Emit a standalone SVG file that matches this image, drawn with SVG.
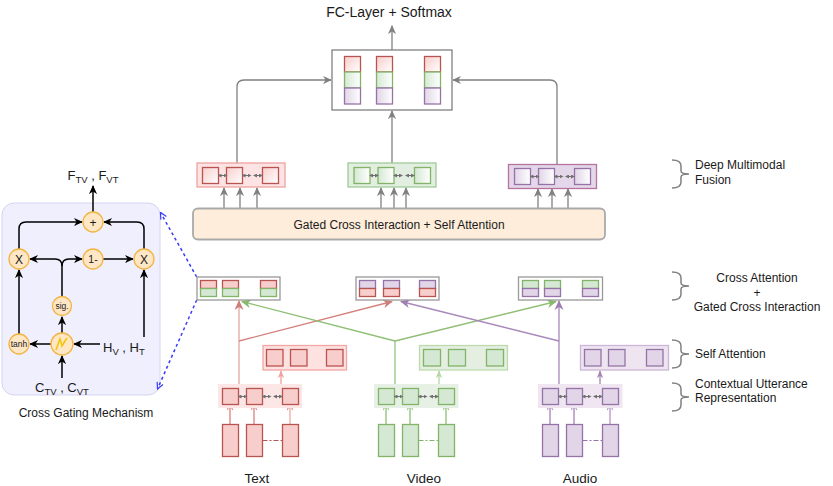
<svg xmlns="http://www.w3.org/2000/svg" width="833" height="486" viewBox="0 0 833 486">
<style>
text{font-family:"Liberation Sans",Arial,sans-serif;fill:#1a1a1a}
.lbl{font-size:12px}
.big{font-size:13.5px}
.cR{fill:#f8cecc;stroke:#b85450;stroke-width:1.3}
.cG{fill:#d5e8d4;stroke:#82b366;stroke-width:1.3}
.cP{fill:#e1d5e7;stroke:#9673a6;stroke-width:1.3}
.gR{fill:url(#gradR);stroke:#b85450;stroke-width:1.3}
.gG{fill:url(#gradG);stroke:#82b366;stroke-width:1.3}
.gP{fill:url(#gradP);stroke:#9673a6;stroke-width:1.3}
.gray{fill:none;stroke:#808080;stroke-width:1.3;marker-end:url(#aGray)}
.blk{fill:none;stroke:#000;stroke-width:1.5;marker-end:url(#aBlk)}
.circ{fill:#ffe6c4;stroke:#f2b443;stroke-width:1.3}
.cn{stroke:#707070;stroke-width:1;marker-start:url(#tiny);marker-end:url(#tiny)}
.brace{fill:none;stroke:#808080;stroke-width:1.5}
.blue{fill:none;stroke:#3a3aff;stroke-width:1.5;stroke-dasharray:3 3;marker-end:url(#aBlue)}
</style>
<defs>
<linearGradient id="gradR" x1="0" y1="0" x2="1" y2="1"><stop offset="0" stop-color="#f8cecc"/><stop offset="1" stop-color="#ffffff"/></linearGradient>
<linearGradient id="gradG" x1="0" y1="0" x2="1" y2="0"><stop offset="0" stop-color="#d5e8d4"/><stop offset="1" stop-color="#ffffff"/></linearGradient>
<linearGradient id="gradP" x1="0" y1="0" x2="1" y2="0"><stop offset="0" stop-color="#e1d5e7"/><stop offset="1" stop-color="#ffffff"/></linearGradient>
<marker id="aGray" viewBox="0 0 10 10" refX="9" refY="5" markerWidth="9" markerHeight="9" markerUnits="userSpaceOnUse" orient="auto"><path d="M0,0.5 L10,5 L0,9.5 L3,5 z" fill="#808080"/></marker>
<marker id="aBlk" viewBox="0 0 10 10" refX="9" refY="5" markerWidth="9" markerHeight="9" markerUnits="userSpaceOnUse" orient="auto"><path d="M0,0.5 L10,5 L0,9.5 L3,5 z" fill="#000"/></marker>
<marker id="aRed" viewBox="0 0 10 10" refX="9" refY="5" markerWidth="10" markerHeight="10" markerUnits="userSpaceOnUse" orient="auto"><path d="M0,0.5 L10,5 L0,9.5 L3,5 z" fill="#d07d79"/></marker>
<marker id="aGrn" viewBox="0 0 10 10" refX="9" refY="5" markerWidth="10" markerHeight="10" markerUnits="userSpaceOnUse" orient="auto"><path d="M0,0.5 L10,5 L0,9.5 L3,5 z" fill="#86b96a"/></marker>
<marker id="aPur" viewBox="0 0 10 10" refX="9" refY="5" markerWidth="10" markerHeight="10" markerUnits="userSpaceOnUse" orient="auto"><path d="M0,0.5 L10,5 L0,9.5 L3,5 z" fill="#a07db3"/></marker>
<marker id="oRed" viewBox="0 0 10 10" refX="9" refY="5" markerWidth="7" markerHeight="7" markerUnits="userSpaceOnUse" orient="auto"><path d="M1,1 L9,5 L1,9" fill="none" stroke="#e08a86" stroke-width="1.5"/></marker>
<marker id="oGrn" viewBox="0 0 10 10" refX="9" refY="5" markerWidth="7" markerHeight="7" markerUnits="userSpaceOnUse" orient="auto"><path d="M1,1 L9,5 L1,9" fill="none" stroke="#9cc783" stroke-width="1.5"/></marker>
<marker id="oPur" viewBox="0 0 10 10" refX="9" refY="5" markerWidth="7" markerHeight="7" markerUnits="userSpaceOnUse" orient="auto"><path d="M1,1 L9,5 L1,9" fill="none" stroke="#b397c3" stroke-width="1.5"/></marker>
<marker id="fRed" viewBox="0 0 10 10" refX="9" refY="5" markerWidth="8" markerHeight="8" markerUnits="userSpaceOnUse" orient="auto"><path d="M0,1 L10,5 L0,9 L3,5 z" fill="#f0a09d"/></marker>
<marker id="fGrn" viewBox="0 0 10 10" refX="9" refY="5" markerWidth="8" markerHeight="8" markerUnits="userSpaceOnUse" orient="auto"><path d="M0,1 L10,5 L0,9 L3,5 z" fill="#b5d6a6"/></marker>
<marker id="fPur" viewBox="0 0 10 10" refX="9" refY="5" markerWidth="8" markerHeight="8" markerUnits="userSpaceOnUse" orient="auto"><path d="M0,1 L10,5 L0,9 L3,5 z" fill="#a383b5"/></marker>
<marker id="aBlue" viewBox="0 0 10 10" refX="9" refY="5" markerWidth="8" markerHeight="8" markerUnits="userSpaceOnUse" orient="auto"><path d="M1,1 L9,5 L1,9" fill="none" stroke="#3a3aff" stroke-width="1.5"/></marker>
<marker id="tiny" viewBox="0 0 6 6" refX="3" refY="3" markerWidth="4" markerHeight="4" markerUnits="userSpaceOnUse" orient="auto-start-reverse"><path d="M0,0 L6,3 L0,6 z" fill="#707070"/></marker>
</defs>

<rect width="833" height="486" fill="#ffffff"/>

<!-- Left panel: cross gating mechanism -->
<g id="cross-gating">
<rect x="2" y="203" width="158" height="192" rx="12" fill="#efeffd" stroke="#d4d4f2" stroke-width="1"/>
<g id="cg-connectors">
<path class="blk" d="M93,212 L93,186"/>
<path class="blk" d="M19,249 L19,229 Q19,222 26,222 L82,222"/>
<path class="blk" d="M144,249 L144,229 Q144,222 137,222 L104,222"/>
<path class="blk" d="M62,296 L62,266 Q62,259 55,259 L30,259"/>
<path class="blk" d="M62,266 Q62,259 69,259 L82,259"/>
<path class="blk" d="M103,259 L133,259"/>
<path class="blk" d="M19,334 L19,270"/>
<path class="blk" d="M144,337 L144,270"/>
<path class="blk" d="M51,344 L30,344"/>
<path class="blk" d="M62,333 L62,317"/>
<path class="blk" d="M100,344 L74,344"/>
<path class="blk" d="M62,378 L62,356"/>
</g>
<g id="cg-plus"><circle class="circ" cx="93" cy="222" r="10"/><text x="93" y="226.5" font-size="12" text-anchor="middle">+</text></g>
<g id="cg-x1"><circle class="circ" cx="19" cy="259" r="10"/><text x="19" y="263.5" font-size="12" text-anchor="middle">X</text></g>
<g id="cg-oneminus"><circle class="circ" cx="93" cy="259" r="10"/><text x="93" y="263" font-size="10.5" text-anchor="middle">1-</text></g>
<g id="cg-x2"><circle class="circ" cx="144" cy="259" r="10"/><text x="144" y="263.5" font-size="12" text-anchor="middle">X</text></g>
<g id="cg-sig"><circle class="circ" cx="62" cy="306" r="9.5"/><text x="62" y="309" font-size="8.5" text-anchor="middle">sig.</text></g>
<g id="cg-tanh"><circle class="circ" cx="19" cy="344" r="10"/><text x="19" y="347" font-size="8.5" text-anchor="middle">tanh</text></g>
<g id="cg-act"><circle class="circ" cx="62" cy="344" r="11"/><path d="M56,350 L60,339 L62,346 L65,341 L67,338" fill="none" stroke="#f5c400" stroke-width="1.5"/></g>
<text x="93" y="180" font-size="13" text-anchor="middle">F<tspan font-size="9.5" dy="3">TV</tspan><tspan dy="-3"> , F</tspan><tspan font-size="9.5" dy="3">VT</tspan></text>
<text x="103" y="352" font-size="13">H<tspan font-size="9.5" dy="3">V</tspan><tspan dy="-3"> , H</tspan><tspan font-size="9.5" dy="3">T</tspan></text>
<text x="35" y="392" font-size="13">C<tspan font-size="9.5" dy="3">TV</tspan><tspan dy="-3"> , C</tspan><tspan font-size="9.5" dy="3">VT</tspan></text>
<text x="86" y="417" class="lbl" text-anchor="middle">Cross Gating Mechanism</text>
</g>

<!-- Connectors -->
<g id="connectors">
<path class="blue" d="M196.7,277 L160.5,212.5"/>
<path class="blue" d="M196.7,300 L157.5,389"/>
<path class="gray" d="M392,50 L392,26"/>
<path class="gray" d="M237,163 L237,87 Q237,80 244,80 L331,80"/>
<path class="gray" d="M557,164 L557,87 Q557,80 550,80 L453,80"/>
<path class="gray" d="M392,163 L392,111"/>
<path class="gray" d="M224,208 L224,188"/>
<path class="gray" d="M240,208 L240,188"/>
<path class="gray" d="M257,208 L257,188"/>
<path class="gray" d="M381,208 L381,188"/>
<path class="gray" d="M394,208 L394,188" stroke="#b0b0b0"/>
<path class="gray" d="M406,208 L406,188" stroke="#b0b0b0"/>
<path class="gray" d="M538,208 L538,189"/>
<path class="gray" d="M552,208 L552,189"/>
<path class="gray" d="M568,208 L568,189"/>
<path d="M239,384 L239,301" fill="none" stroke="#e3a6a3" stroke-width="1.3" marker-end="url(#aRed)"/>
<path d="M239,341 L392,301.5" fill="none" stroke="#d4817d" stroke-width="1.3" marker-end="url(#aRed)"/>
<path d="M395,384 L395,341" fill="none" stroke="#97c27e" stroke-width="1.3"/>
<path d="M395,341 L242,301.5" fill="none" stroke="#8fbf75" stroke-width="1.3" marker-end="url(#aGrn)"/>
<path d="M395,341 L556,301.5" fill="none" stroke="#8fbf75" stroke-width="1.3" marker-end="url(#aGrn)"/>
<path d="M559,384 L559,301" fill="none" stroke="#a987ba" stroke-width="1.3" marker-end="url(#aPur)"/>
<path d="M559,341 L401,301.5" fill="none" stroke="#a987ba" stroke-width="1.3" marker-end="url(#aPur)"/>
<path d="M281,384 L281,371" fill="none" stroke="#f0a09d" stroke-width="1.3" marker-end="url(#fRed)"/>
<path d="M439,384 L439,371" fill="none" stroke="#b5d6a6" stroke-width="1.3" marker-end="url(#fGrn)"/>
<path d="M600,384 L600,371" fill="none" stroke="#a383b5" stroke-width="1.3" marker-end="url(#fPur)"/>
<path d="M230,424 L230,404.5" fill="none" stroke="#d9807c" stroke-width="1.3" marker-end="url(#oRed)"/>
<path d="M254,424 L254,404.5" fill="none" stroke="#d9807c" stroke-width="1.3" marker-end="url(#oRed)"/>
<path d="M290,424 L290,404.5" fill="none" stroke="#e8aaa7" stroke-width="1.3" marker-end="url(#oRed)"/>
<path d="M386,424 L386,404.5" fill="none" stroke="#8fbf75" stroke-width="1.3" marker-end="url(#oGrn)"/>
<path d="M410,424 L410,404.5" fill="none" stroke="#8fbf75" stroke-width="1.3" marker-end="url(#oGrn)"/>
<path d="M446,424 L446,404.5" fill="none" stroke="#8fbf75" stroke-width="1.3" marker-end="url(#oGrn)"/>
<path d="M550,424 L550,404.5" fill="none" stroke="#a383b5" stroke-width="1.3" marker-end="url(#oPur)"/>
<path d="M574,424 L574,404.5" fill="none" stroke="#a383b5" stroke-width="1.3" marker-end="url(#oPur)"/>
<path d="M610,424 L610,404.5" fill="none" stroke="#c9b3d4" stroke-width="1.8" marker-end="url(#oPur)"/>
</g>

<!-- Top fused box -->
<g id="fc-layer">
<text x="389" y="17" font-size="14" text-anchor="middle">FC-Layer + Softmax</text>
<rect x="332" y="50" width="120" height="60" fill="#ffffff" stroke="#808080" stroke-width="1.3"/>
<rect class="gR" x="344.5" y="56.5" width="16" height="15.5"/><rect class="gG" x="344.5" y="72" width="16" height="16"/><rect class="gP" x="344.5" y="88" width="16" height="16"/>
<rect class="gR" x="376.5" y="56.5" width="16" height="15.5"/><rect class="gG" x="376.5" y="72" width="16" height="16"/><rect class="gP" x="376.5" y="88" width="16" height="16"/>
<rect class="gR" x="424.5" y="56.5" width="16" height="15.5"/><rect class="gG" x="424.5" y="72" width="16" height="16"/><rect class="gP" x="424.5" y="88" width="16" height="16"/>
</g>

<!-- Deep multimodal fusion row -->
<g id="fusion-text">
<rect x="197" y="163" width="88" height="24" fill="#fde3e3" stroke="#eda3a1" stroke-width="1.3"/>
<rect class="gR" x="202.5" y="167.5" width="16" height="16"/><rect class="gR" x="226.5" y="167.5" width="16" height="16"/><rect class="gR" x="262.5" y="167.5" width="16" height="16"/>
<path class="cn" d="M219.5,175.5 h6"/><path class="cn" d="M243.5,175.5 h6"/><path class="cn" d="M255,175.5 h6"/>
</g>
<g id="fusion-video">
<rect x="348" y="163" width="88" height="24" fill="#e2efe0" stroke="#9fcb98" stroke-width="1.3"/>
<rect class="gG" x="354" y="167.5" width="16" height="16"/><rect class="gG" x="378" y="167.5" width="16" height="16"/><rect class="gG" x="414.5" y="167.5" width="16" height="16"/>
<path class="cn" d="M371,175.5 h6"/><path class="cn" d="M395,175.5 h6"/><path class="cn" d="M407,175.5 h6"/>
</g>
<g id="fusion-audio">
<rect x="508.5" y="164.5" width="88" height="24" fill="#e4d7ea" stroke="#b5739d" stroke-width="1.3"/>
<rect class="gP" x="514.5" y="168.5" width="16" height="16"/><rect class="gP" x="538.5" y="168.5" width="16" height="16"/><rect class="gP" x="574.5" y="168.5" width="16" height="16"/>
<path class="cn" d="M531.5,176.5 h6"/><path class="cn" d="M555.5,176.5 h6"/><path class="cn" d="M567,176.5 h6"/>
</g>

<!-- Gated cross interaction -->
<g id="gated">
<rect x="193" y="208.5" width="412" height="31" rx="5" fill="#feedda" stroke="#a9a9a9" stroke-width="1.8"/>
<text x="399" y="229" class="lbl" text-anchor="middle">Gated Cross Interaction + Self Attention</text>
</g>

<!-- Cross attention row -->
<g id="cross-text">
<rect x="197" y="277" width="83" height="23" fill="#ffffff" stroke="#999999" stroke-width="1.3"/>
<rect class="cR" x="200.5" y="280.5" width="16" height="8"/><rect class="cG" x="200.5" y="288.5" width="16" height="8"/>
<rect class="cR" x="222.5" y="280.5" width="16" height="8"/><rect class="cG" x="222.5" y="288.5" width="16" height="8"/>
<rect class="cR" x="260.5" y="280.5" width="16" height="8"/><rect class="cG" x="260.5" y="288.5" width="16" height="8"/>
</g>
<g id="cross-video">
<rect x="356" y="277" width="83" height="23" fill="#ffffff" stroke="#999999" stroke-width="1.3"/>
<rect class="cP" x="359.5" y="280.5" width="16" height="8"/><rect class="cR" x="359.5" y="288.5" width="16" height="8"/>
<rect class="cP" x="383.5" y="280.5" width="16" height="8"/><rect class="cR" x="383.5" y="288.5" width="16" height="8"/>
<rect class="cP" x="419.5" y="280.5" width="16" height="8"/><rect class="cR" x="419.5" y="288.5" width="16" height="8"/>
</g>
<g id="cross-audio">
<rect x="518.5" y="277" width="84" height="23" fill="#ffffff" stroke="#999999" stroke-width="1.3"/>
<rect class="cG" x="522.5" y="280.5" width="16" height="8"/><rect class="cP" x="522.5" y="288.5" width="16" height="8"/>
<rect class="cG" x="544.5" y="280.5" width="16" height="8"/><rect class="cP" x="544.5" y="288.5" width="16" height="8"/>
<rect class="cG" x="582.5" y="280.5" width="16" height="8"/><rect class="cP" x="582.5" y="288.5" width="16" height="8"/>
</g>

<!-- Self attention row -->
<g id="self-text">
<rect x="263" y="345.5" width="83.5" height="24.5" fill="#fde2e1" stroke="#f3a7a4" stroke-width="1.3"/>
<rect class="cR" x="266.5" y="349.5" width="16.5" height="16.5"/><rect class="cR" x="290.5" y="349.5" width="16.5" height="16.5"/><rect class="cR" x="326.5" y="349.5" width="16.5" height="16.5"/>
</g>
<g id="self-video">
<rect x="419.5" y="345.5" width="88" height="24.5" fill="#e4efe1" stroke="#bcdaae" stroke-width="1.3"/>
<rect class="cG" x="423.5" y="349.5" width="17" height="16.5"/><rect class="cG" x="448.5" y="349.5" width="17" height="16.5"/><rect class="cG" x="486.5" y="349.5" width="17" height="16.5"/>
</g>
<g id="self-audio">
<rect x="580.5" y="345.5" width="88" height="24.5" fill="#eee5f1" stroke="#ccb5d6" stroke-width="1.3"/>
<rect class="cP" x="584.5" y="349.5" width="16.5" height="16.5"/><rect class="cP" x="608.5" y="349.5" width="16.5" height="16.5"/><rect class="cP" x="646.5" y="349.5" width="16.5" height="16.5"/>
</g>

<!-- Contextual row -->
<g id="ctx-text">
<rect x="218" y="384" width="84" height="24" fill="#fde6e6"/>
<rect class="cR" x="222.5" y="388.5" width="16" height="16"/><rect class="cR" x="246.5" y="388.5" width="16" height="16"/><rect class="cR" x="282.5" y="388.5" width="16" height="16"/>
<path class="cn" d="M239.5,396.5 h6"/><path class="cn" d="M263.5,396.5 h6"/><path class="cn" d="M275,396.5 h6"/>
</g>
<g id="ctx-video">
<rect x="374" y="384" width="84.5" height="24" fill="#e6f0e4"/>
<rect class="cG" x="378.5" y="388.5" width="16" height="16"/><rect class="cG" x="402.5" y="388.5" width="16" height="16"/><rect class="cG" x="438.5" y="388.5" width="16" height="16"/>
<path class="cn" d="M395.5,396.5 h6"/><path class="cn" d="M419.5,396.5 h6"/><path class="cn" d="M431,396.5 h6"/>
</g>
<g id="ctx-audio">
<rect x="538" y="384" width="84.5" height="24" fill="#efe6f2"/>
<rect class="cP" x="542.5" y="388.5" width="16" height="16"/><rect class="cP" x="566.5" y="388.5" width="16" height="16"/><rect class="cP" x="602.5" y="388.5" width="16" height="16"/>
<path class="cn" d="M559.5,396.5 h6"/><path class="cn" d="M583.5,396.5 h6"/><path class="cn" d="M595,396.5 h6"/>
</g>

<!-- Inputs -->
<g id="input-text">
<rect class="cR" x="222.5" y="424.5" width="16" height="32"/><rect class="cR" x="246.5" y="424.5" width="16" height="32"/><rect class="cR" x="282.5" y="424.5" width="16" height="32"/>
<path d="M262.5,440.5 H282.5" stroke="#b85450" stroke-width="1.2" stroke-dasharray="5 2 2 2"/>
<text x="257" y="483" class="big" text-anchor="middle">Text</text>
</g>
<g id="input-video">
<rect class="cG" x="378.5" y="424.5" width="16" height="32"/><rect class="cG" x="402.5" y="424.5" width="16" height="32"/><rect class="cG" x="438.5" y="424.5" width="16" height="32"/>
<path d="M418.5,440.5 H438.5" stroke="#82b366" stroke-width="1.2" stroke-dasharray="5 2 2 2"/>
<text x="424" y="483" class="big" text-anchor="middle">Video</text>
</g>
<g id="input-audio">
<rect class="cP" x="542.5" y="424.5" width="16" height="32"/><rect class="cP" x="566.5" y="424.5" width="16" height="32"/><rect class="cP" x="602.5" y="424.5" width="16" height="32"/>
<path d="M582.5,440.5 H602.5" stroke="#9673a6" stroke-width="1.2" stroke-dasharray="5 2 2 2"/>
<text x="580" y="483" class="big" text-anchor="middle">Audio</text>
</g>

<!-- Right labels -->
<g id="label-fusion">
<path class="brace" d="M672,160 Q681,160 681,166 L681,171 Q681,174 689,174 Q681,174 681,177 L681,182 Q681,188 672,188"/>
<text x="695" y="169" class="lbl">Deep Multimodal</text>
<text x="695" y="184" class="lbl">Fusion</text>
</g>
<g id="label-cross">
<path class="brace" d="M672,272 Q681,272 681,278 L681,283 Q681,286 689,286 Q681,286 681,289 L681,294 Q681,300 672,300"/>
<text x="757" y="282" class="lbl" text-anchor="middle">Cross Attention</text>
<text x="757" y="296.5" class="lbl" text-anchor="middle">+</text>
<text x="757" y="311" class="lbl" text-anchor="middle">Gated Cross Interaction</text>
</g>
<g id="label-self">
<path class="brace" d="M672,340 Q681,340 681,346 L681,351 Q681,354 689,354 Q681,354 681,357 L681,362 Q681,368 672,368"/>
<text x="695" y="358" class="lbl">Self Attention</text>
</g>
<g id="label-ctx">
<path class="brace" d="M672,383 Q681,383 681,389 L681,394 Q681,397 689,397 Q681,397 681,400 L681,405 Q681,411 672,411"/>
<text x="695" y="388" class="lbl">Contextual Utterance</text>
<text x="695" y="402" class="lbl">Representation</text>
</g>
</svg>
